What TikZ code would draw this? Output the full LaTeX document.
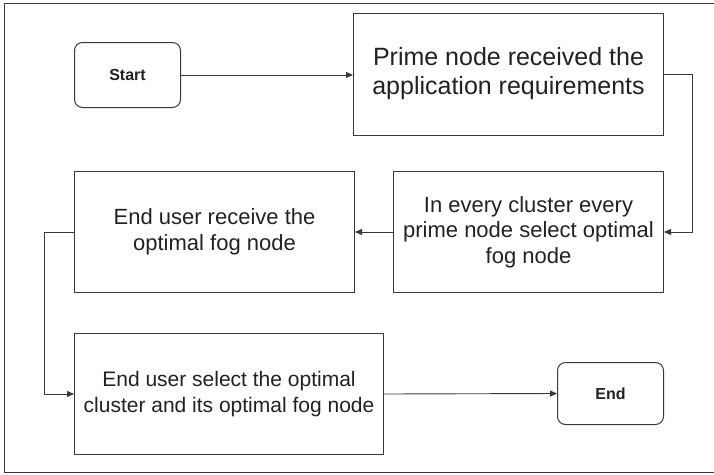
\documentclass[tikz,border=0pt]{standalone}
\usepackage{fontspec}
\setmainfont{Liberation Sans}
\usetikzlibrary{arrows.meta}
\definecolor{ln}{HTML}{3A3A3A}
\definecolor{tx}{HTML}{222222}
\begin{document}
\begin{tikzpicture}[x=1pt,y=-1pt,
  box/.style={draw=ln,line width=1pt,inner sep=0pt,align=center,text=tx,anchor=north west},
  term/.style={box,rounded corners=8pt,font=\bfseries\fontsize{16}{19}\selectfont},
  conn/.style={draw=ln,line width=0.9pt,-{Triangle[length=7pt,width=6pt]}}]
\useasboundingbox (0,0) rectangle (714,474);
\fill[white] (0,0) rectangle (714,474);
\draw[ln,line width=1pt] (716,3) -- (4,3) -- (4,472) -- (716,472);
\node[term,minimum width=106pt,minimum height=65pt] (start) at (74,42) {Start};
\node[box,minimum width=310pt,minimum height=122pt,font=\fontsize{25}{29}\selectfont] (prime) at (353,13) {\raisebox{-3pt}{\begin{tabular}{@{}c@{}}Prime node received the\\application requirements\end{tabular}}};
\node[box,minimum width=270pt,minimum height=121pt,font=\fontsize{22}{25.5}\selectfont] (clus) at (393,171) {In every cluster every\\prime node select optimal\\fog node};
\node[box,minimum width=280pt,minimum height=121pt,font=\fontsize{22}{26}\selectfont] (recv) at (74,171) {End user receive the\\optimal fog node};
\node[box,minimum width=309pt,minimum height=121pt,font=\fontsize{21}{26}\selectfont] (sel) at (74,333) {End user select the optimal\\cluster and its optimal fog node};
\node[term,minimum width=106pt,minimum height=62pt] (end) at (557,362) {End};
\coordinate (c1) at (692,74);
\coordinate (c2) at (44,232);
\draw[conn] (start.east) -- (start.east -| prime.west);
\draw[conn] (prime.east |- c1) -- (c1) |- (clus.east);
\draw[conn] (clus.west) -- (clus.west -| recv.east);
\draw[conn] (recv.west) -- (c2) |- (sel.west);
\draw[conn] (sel.east) -- (end.west);
\end{tikzpicture}
\end{document}
